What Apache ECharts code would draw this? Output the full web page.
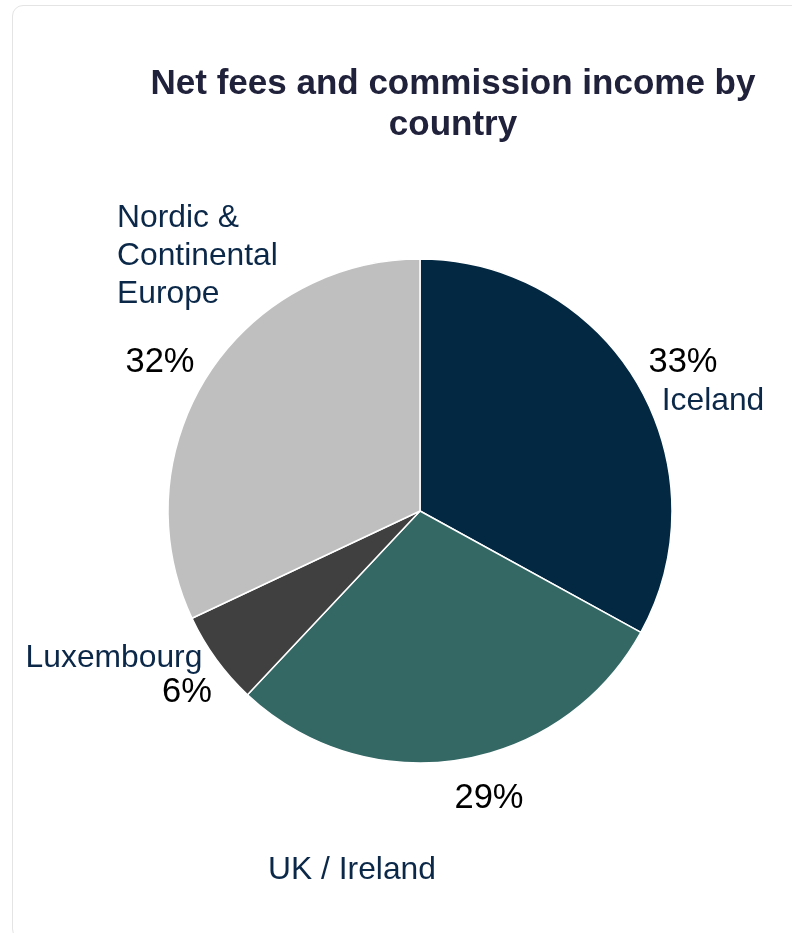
<!DOCTYPE html>
<html>
<head>
<meta charset="utf-8">
<title>Net fees and commission income by country</title>
<script src="https://cdn.jsdelivr.net/npm/echarts@6/dist/echarts.min.js"></script>
<style>
  html, body { margin: 0; padding: 0; background: #ffffff; overflow: hidden; }
  #card {
    position: absolute; left: 12px; top: 5px; width: 820px; height: 935px;
    border: 1px solid #e4e4e4; border-radius: 11px; box-sizing: border-box;
  }
  #chart { position: absolute; left: 0; top: 0; width: 792px; height: 933px; }
</style>
</head>
<body>
<div id="card"></div>
<div id="chart"></div>
<script>
// Share of net fees and commission income, by country (percent)
const countries = ['Iceland', 'UK / Ireland', 'Luxembourg', 'Nordic &\nContinental\nEurope'];
const shares = [33, 29, 6, 32];
const sliceColors = ['#022842', '#336865', '#404040', '#bfbfbf'];

// Where each slice's percent and name labels sit
const percentSpots = [
  { x: 683, y: 362, align: 'center' },
  { x: 489, y: 798, align: 'center' },
  { x: 187, y: 692, align: 'center' },
  { x: 160, y: 362, align: 'center' }
];
const nameSpots = [
  { x: 713, y: 401, align: 'center' },
  { x: 352, y: 870, align: 'center' },
  { x: 114, y: 658, align: 'center' },
  { x: 117, y: 256, align: 'left' }
];

const items = countries.map((name, i) => ({ name: name, value: shares[i] }));

const chart = echarts.init(document.getElementById('chart'), null, { renderer: 'canvas' });

const pieBase = {
  type: 'pie',
  center: [420, 511],
  radius: 252,
  startAngle: 90,
  clockwise: true,
  avoidLabelOverlap: false,
  labelLine: { show: false },
  emphasis: { disabled: true },
  animation: false
};

chart.setOption({
  backgroundColor: 'transparent',
  title: {
    text: 'Net fees and commission income by\ncountry',
    left: 448,
    top: 59,
    textAlign: 'center',
    textStyle: {
      fontFamily: 'Liberation Sans, Arial, sans-serif',
      fontWeight: 'bold',
      fontSize: 35,
      lineHeight: 41,
      color: '#20213a'
    }
  },
  series: [
    Object.assign({}, pieBase, {
      name: 'slices',
      data: items.map((d, i) => ({ name: d.name, value: d.value, itemStyle: { color: sliceColors[i] } })),
      itemStyle: { borderColor: '#ffffff', borderWidth: 1.5 },
      label: {
        show: true,
        position: 'outside',
        formatter: '{c}%',
        fontFamily: 'Liberation Sans, Arial, sans-serif',
        fontSize: 34.5,
        color: '#000000'
      },
      labelLayout: function (p) {
        const s = percentSpots[p.dataIndex];
        return { x: s.x, y: s.y, align: s.align, verticalAlign: 'middle' };
      }
    }),
    Object.assign({}, pieBase, {
      name: 'names',
      silent: true,
      z: 3,
      data: items.map(d => ({ name: d.name, value: d.value })),
      itemStyle: { color: 'rgba(0,0,0,0)', borderWidth: 0 },
      label: {
        show: true,
        position: 'outside',
        formatter: '{b}',
        fontFamily: 'Liberation Sans, Arial, sans-serif',
        fontSize: 31.8,
        lineHeight: 38,
        color: '#0b2849'
      },
      labelLayout: function (p) {
        const s = nameSpots[p.dataIndex];
        return { x: s.x, y: s.y, align: s.align, verticalAlign: 'middle' };
      }
    })
  ]
});
</script>
</body>
</html>
